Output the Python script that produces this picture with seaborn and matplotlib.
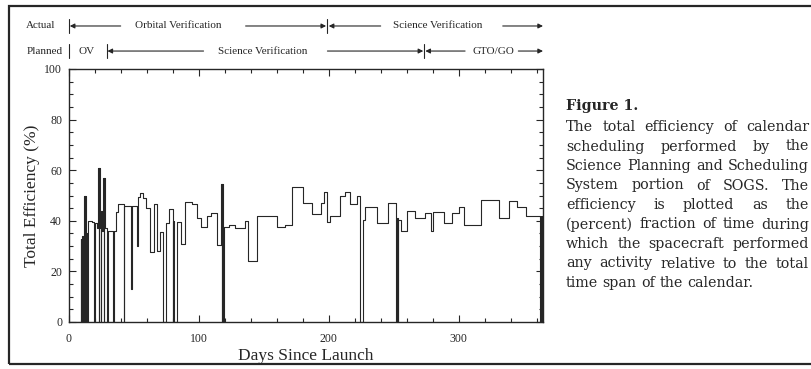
import matplotlib
matplotlib.use("Agg")
import matplotlib.pyplot as plt
from matplotlib.ticker import MultipleLocator
from matplotlib.patches import Rectangle
import pandas as pd
import seaborn as sns

# step series: day where a level starts, efficiency (%) of that level
days = [0, 9.0, 9.5, 9.8, 10.4, 10.7, 11.2, 11.5, 12.1, 12.4, 13.0, 13.3, 14.0, 14.4, 17.5,
        19.3, 19.7, 21.5, 22.3, 22.8, 23.1, 23.6, 24.4, 24.8, 25.6, 26.3, 26.8, 27.1, 27.6,
        29.4, 29.7, 34.0, 34.3, 36.4, 38.0, 42.3, 42.6, 47.8, 48.3, 52.4, 52.9, 55.0, 57.0,
        59.0, 62.4, 65.5, 67.7, 69.8, 72.6, 74.4, 77.0, 79.8, 80.3, 80.7, 82.8, 86.4, 89.7,
        95.0, 98.7, 101.3, 105.9, 109.0, 114.0, 117.0, 117.7, 118.0, 118.8, 119.5, 123.0,
        128.0, 135.6, 138.2, 144.6, 160.0, 166.0, 172.0, 180.0, 187.0, 194.0, 196.0, 199.0,
        201.0, 208.4, 212.4, 216.3, 221.6, 223.7, 226.3, 228.2, 237.4, 245.3, 252.0, 252.6,
        253.2, 253.7, 255.3, 260.5, 266.3, 274.2, 279.0, 280.3, 288.7, 295.3, 300.5, 304.5,
        317.6, 330.8, 338.7, 345.3, 351.8, 362.8, 363.3, 363.8, 364.3, 364.8, 365.0]
efficiency = [0, 33, 0, 34, 0, 33, 0, 50, 0, 50, 0, 35, 0, 40, 39.5,
              0, 39, 37, 61, 0, 61, 37, 0, 44, 36, 57, 0, 57, 37,
              0, 36, 0, 36, 43.5, 46.5, 0, 46, 13, 45.8, 30, 49.5, 50.8, 49,
              45, 27.5, 46.5, 28, 35.5, 0, 39, 44.5, 0, 40, 0, 39.5, 31, 47.6,
              46.8, 41, 37.5, 42, 43.2, 30.5, 54.6, 0, 54.6, 0, 37.5, 38.3,
              37, 40, 24.3, 41.7, 37.4, 38.5, 53.5, 47.2, 42.6, 47, 51.5, 39.5,
              42, 50, 51.5, 46.6, 50, 0, 40.5, 45.5, 39, 47, 0, 41,
              0, 40.5, 36, 44, 41.3, 43, 36, 43.6, 39, 43, 45.5, 38.5,
              48.3, 41, 48, 45.3, 42, 0, 42, 0, 42, 0, 0]

x_ticks = [0, 100, 200, 300]
y_ticks = [0, 20, 40, 60, 80, 100]

# phase header rows: (label, centre day)
actual_labels = [("Orbital Verification", 84), ("Science Verification", 284)]
planned_labels = [("OV", 13.7), ("Science Verification", 149), ("GTO/GO", 326.7)]

caption_lines = [
    "The total efficiency of calendar",
    "scheduling performed by the",
    "Science Planning and Scheduling",
    "System portion of SOGS. The",
    "efficiency is plotted as the",
    "(percent) fraction of time during",
    "which the spacecraft performed",
    "any activity relative to the total",
    "time span of the calendar.",
]

INK = "#262626"

sns.set_style("ticks")
plt.rcParams["font.family"] = ["Liberation Serif", "DejaVu Serif"]

W, H = 812, 369
fig = plt.figure(figsize=(W / 100, H / 100), dpi=100)
fig.patch.set_facecolor("white")
ax = fig.add_axes([69 / W, 1 - 322 / H, (543 - 69) / W, (322 - 69) / H])

df = pd.DataFrame({"day": days, "eff": efficiency})
sns.lineplot(data=df, x="day", y="eff", estimator=None, sort=False,
             drawstyle="steps-post", color=INK, lw=0.8, ax=ax)

ax.set_xlim(0, 365)
ax.set_ylim(0, 100)
ax.set_xticks(x_ticks)
ax.set_yticks(y_ticks)
ax.xaxis.set_minor_locator(MultipleLocator(20))
ax.yaxis.set_minor_locator(MultipleLocator(5))
ax.tick_params(which="both", direction="in", top=True, right=True, colors=INK,
               labelsize=8.5, width=0.8)
ax.tick_params(which="major", length=5)
ax.tick_params(axis="x", which="major", pad=8)
ax.tick_params(axis="y", which="major", pad=5)
ax.tick_params(which="minor", length=3)
for s in ax.spines.values():
    s.set_color(INK)
    s.set_linewidth(1.0)
ax.set_xlabel("Days Since Launch", fontsize=12.5, color=INK, labelpad=2)
ax.set_ylabel("Total Efficiency (%)", fontsize=12.5, color=INK, labelpad=3)

# header rows above the axes (x in days, y in axes fraction)
tr = ax.get_xaxis_transform()
y_act, y_plan = 1.17, 1.071
hdr = dict(transform=tr, fontsize=8, color=INK, va="center", clip_on=False)
ax.text(-10.5, y_act, "Actual", ha="right", **hdr)
ax.text(-5, y_plan, "Planned", ha="right", **hdr)
for lab, d in actual_labels:
    ax.text(d, y_act, lab, ha="center", **hdr)
for lab, d in planned_labels:
    ax.text(d, y_plan, lab, ha="center", **hdr)


def arrow(y, start, end):
    ax.annotate("", xy=(end, y), xytext=(start, y), xycoords=tr, textcoords=tr,
                annotation_clip=False,
                arrowprops=dict(arrowstyle="-|>", color=INK, lw=0.8,
                                mutation_scale=7, shrinkA=0, shrinkB=0))


def bar(y, d):
    ax.plot([d, d], [y - 0.028, y + 0.028], transform=tr, color=INK, lw=0.8,
            clip_on=False)


bar(y_act, 0)
arrow(y_act, 39.8, 0.6)
arrow(y_act, 136, 198)
bar(y_act, 199)
arrow(y_act, 240, 200)
arrow(y_act, 334, 365)

bar(y_plan, 0)
bar(y_plan, 29)
arrow(y_plan, 103.6, 29.6)
arrow(y_plan, 199, 272.8)
bar(y_plan, 273.6)
arrow(y_plan, 305, 274.4)
arrow(y_plan, 346, 365)

# outer frame of the scanned page
fig.add_artist(Rectangle((9 / W, 1 - 364 / H), 1.2, (364 - 6) / H,
                         transform=fig.transFigure, fill=False, ec=INK, lw=1.6))

# caption, justified to a column ending just inside the right edge
renderer = fig.canvas.get_renderer()
left, right = 566, 809


def width_of(s, size, **kw):
    t = fig.text(0, 0, s, family="DejaVu Serif", size=size, **kw)
    w = t.get_window_extent(renderer).width
    t.remove()
    return w


# size the font so the unstretched line fills the column
cap_size = 10 * (right - left) / width_of("Science Planning and Scheduling", 10)
cap_font = dict(family="DejaVu Serif", size=cap_size, color=INK)
fig.text(left / W, 1 - 106 / H, "Figure 1.", fontweight="bold", va="center",
         family="DejaVu Serif", size=cap_size, color=INK)
sp = width_of("a b", cap_size) - width_of("ab", cap_size)
for i, line in enumerate(caption_lines):
    y = 1 - (127 + 19.5 * i) / H
    words = line.split()
    widths = [width_of(w, cap_size) for w in words]
    if i < len(caption_lines) - 1 and len(words) > 1:
        gap = max(sp * 0.8, (right - left - sum(widths)) / (len(words) - 1))
    else:
        gap = sp
    x = left
    for w, wd in zip(words, widths):
        fig.text(x / W, y, w, va="center", **cap_font)
        x += wd + gap

fig.savefig("out.png", dpi=100)
